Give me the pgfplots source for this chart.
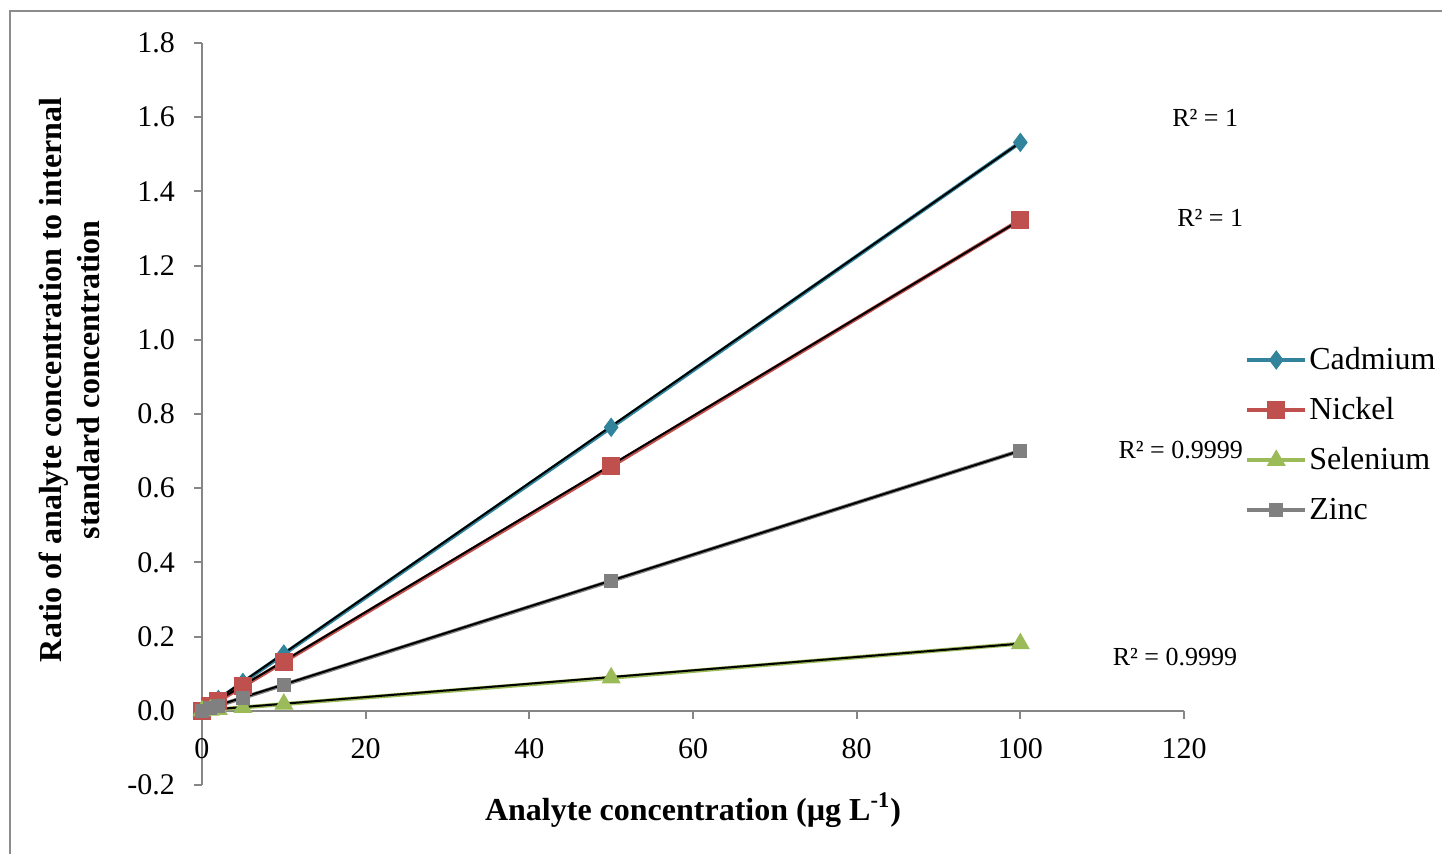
\documentclass[border=0pt]{standalone}
\usepackage{pgfplots}
\pgfplotsset{compat=1.18}
\usepackage{fontspec}
\setmainfont{Liberation Serif}
\definecolor{cadmium}{RGB}{49,132,155}
\definecolor{nickel}{RGB}{192,80,77}
\definecolor{selenium}{RGB}{155,187,89}
\definecolor{zinc}{RGB}{128,128,128}
\definecolor{axisgray}{RGB}{134,134,134}
\definecolor{framegray}{RGB}{140,140,140}
\begin{document}
\begin{tikzpicture}
% outer chart frame (top and left edges)
\draw[framegray, line width=1pt] (5pt,-427pt) -- (5pt,-5.5pt) -- (721pt,-5.5pt);
\begin{axis}[
  at={(101pt,-392.5pt)}, anchor=south west,
  scale only axis, width=491pt, height=371pt,
  xmin=0, xmax=120, ymin=-0.2, ymax=1.8,
  axis x line=middle, axis y line=left,
  axis line style={-, axisgray, line width=1pt},
  hide obscured x ticks=false, hide obscured y ticks=false,
  xtick={0,20,40,60,80,100,120},
  xticklabels={0,20,40,60,80,100,120},
  ytick={-0.2,0,0.2,0.4,0.6,0.8,1.0,1.2,1.4,1.6,1.8},
  yticklabels={-0.2,0.0,0.2,0.4,0.6,0.8,1.0,1.2,1.4,1.6,1.8},
  tick style={axisgray, line width=1pt},
  tick align=outside, major tick length=4pt,
  tick label style={font=\fontsize{15}{18}\selectfont, text=black},
  xticklabel style={anchor=center, yshift=-15pt},
  yticklabel style={xshift=-6pt},
  xlabel={\textbf{Analyte concentration (µg L\textsuperscript{-1})}},
  xlabel style={at={(axis description cs:0.5,-0.034)}, anchor=center,
    font=\fontsize{16}{19}\selectfont},
  ylabel={\textbf{Ratio of analyte concentration to internal}\\\textbf{standard concentration}},
  ylabel style={at={(axis description cs:-0.1354,0.546)}, anchor=center,
    align=center, font=\fontsize{16}{19}\selectfont},
  clip=false,
  legend style={at={(axis description cs:1.062,0.472)}, anchor=west,
    draw=none, fill=none, font=\fontsize{16}{19}\selectfont,
    row sep=10.5pt, inner sep=0pt, nodes={inner sep=1pt}},
  legend cell align=left,
  legend image code/.code={%
    \draw[mark repeat=2,mark phase=2] plot coordinates {(0pt,0pt) (14.5pt,0pt) (29pt,0pt)};},
]
% measured ratios
\addplot[cadmium, line width=2pt, mark=diamond*, mark size=4.5pt,
  mark options={solid, fill=cadmium, draw=cadmium, line width=0.5pt}]
  coordinates {(0,0) (1,0.0153) (2,0.0306) (5,0.0765) (10,0.153) (50,0.764) (100,1.532)};
\addlegendentry{Cadmium}
\addplot[nickel, line width=2pt, mark=square*, mark size=4.2pt,
  mark options={solid, fill=nickel, draw=nickel, line width=0.5pt}]
  coordinates {(0,0) (1,0.0132) (2,0.0265) (5,0.066) (10,0.132) (50,0.659) (100,1.323)};
\addlegendentry{Nickel}
\addplot[selenium, line width=2pt, mark=triangle*, mark size=5pt,
  mark options={solid, fill=selenium, draw=selenium, line width=0.5pt}]
  coordinates {(0,0) (1,0.0018) (2,0.0036) (5,0.009) (10,0.018) (50,0.089) (100,0.181)};
\addlegendentry{Selenium}
\addplot[zinc, line width=2pt, mark=square*, mark size=3.2pt,
  mark options={solid, fill=zinc, draw=zinc, line width=0.5pt}]
  coordinates {(0,0) (1,0.007) (2,0.014) (5,0.035) (10,0.07) (50,0.35) (100,0.701)};
\addlegendentry{Zinc}
% linear trendlines
\addplot[black, line width=1pt, forget plot] coordinates {(0,0.002) (100,1.532)};
\addplot[black, line width=1pt, forget plot] coordinates {(0,0.002) (100,1.323)};
\addplot[black, line width=1pt, forget plot] coordinates {(0,0.001) (100,0.181)};
\addplot[black, line width=1pt, forget plot] coordinates {(0,0.001) (100,0.701)};
% coefficients of determination
\node[font=\fontsize{13}{15}\selectfont] at (axis cs:122.6,1.598) {R² = 1};
\node[font=\fontsize{13}{15}\selectfont] at (axis cs:123.2,1.329) {R² = 1};
\node[font=\fontsize{13}{15}\selectfont] at (axis cs:119.6,0.7035) {R² = 0.9999};
\node[font=\fontsize{13}{15}\selectfont] at (axis cs:118.9,0.1455) {R² = 0.9999};
\end{axis}
\pgfresetboundingbox
\path[use as bounding box] (0pt,0pt) rectangle (721pt,-427pt);
\end{tikzpicture}
\end{document}
